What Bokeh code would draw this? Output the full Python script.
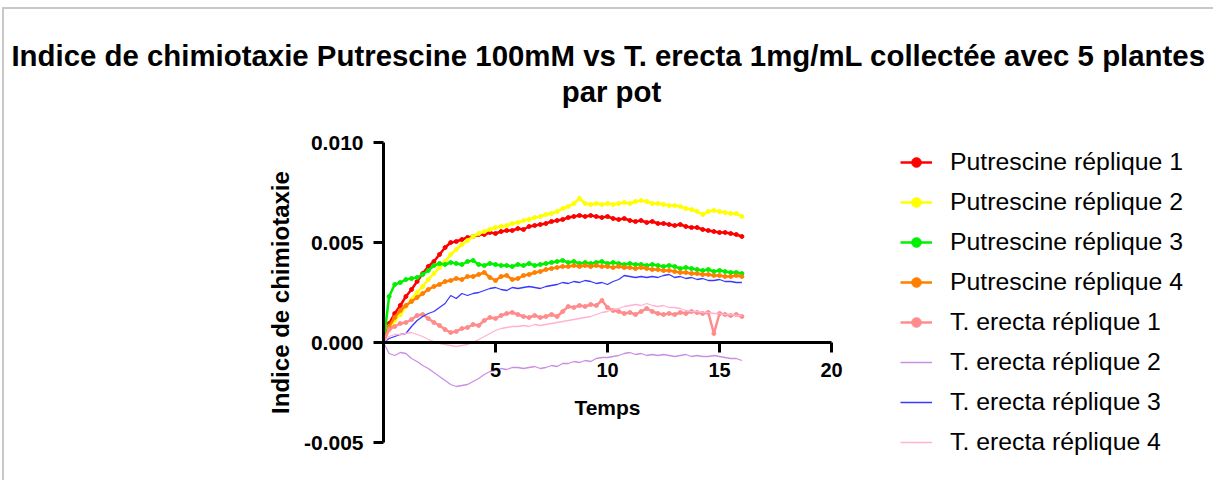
from bokeh.plotting import figure
from bokeh.models import (Range1d, FixedTicker, NumeralTickFormatter, Legend,
                          LegendItem, ColumnDataSource, Label)
from bokeh.embed import file_html
from bokeh.resources import INLINE

# Time (x) and series values (in units of 1e-3 of the chemotaxis index)
temps = [0.0, 0.25, 0.5, 0.75, 1.0, 1.25, 1.5, 1.75, 2.0, 2.25, 2.5, 2.75, 3.0,
         3.25, 3.5, 3.75, 4.0, 4.25, 4.5, 4.75, 5.0, 5.25, 5.5, 5.75, 6.0, 6.25,
         6.5, 6.75, 7.0, 7.25, 7.5, 7.75, 8.0, 8.25, 8.5, 8.75, 9.0, 9.25, 9.5,
         9.75, 10.0, 10.25, 10.5, 10.75, 11.0, 11.25, 11.5, 11.75, 12.0, 12.25,
         12.5, 12.75, 13.0, 13.25, 13.5, 13.75, 14.0, 14.25, 14.5, 14.75, 15.0,
         15.25, 15.5, 15.75, 16.0]

putrescine_1 = [0.00, 0.95, 1.45, 1.85, 2.30, 2.65, 3.05, 3.45, 3.80, 4.05, 4.40,
                4.75, 5.00, 5.05, 5.15, 5.25, 5.30, 5.40, 5.40, 5.50, 5.45, 5.55,
                5.60, 5.60, 5.70, 5.65, 5.80, 5.85, 5.90, 5.95, 6.05, 6.10, 6.15,
                6.25, 6.30, 6.35, 6.30, 6.35, 6.30, 6.25, 6.30, 6.20, 6.15, 6.20,
                6.10, 6.05, 6.10, 6.00, 6.05, 5.95, 5.95, 5.90, 5.85, 5.90, 5.80,
                5.75, 5.75, 5.65, 5.60, 5.55, 5.50, 5.50, 5.45, 5.40, 5.30]
putrescine_2 = [0.00, 0.70, 1.10, 1.40, 1.80, 2.15, 2.50, 2.80, 3.15, 3.45, 3.75,
                4.05, 4.40, 4.65, 4.90, 5.10, 5.30, 5.45, 5.55, 5.65, 5.75, 5.80,
                5.85, 5.95, 6.00, 6.10, 6.15, 6.25, 6.30, 6.40, 6.45, 6.55, 6.70,
                6.80, 6.95, 7.20, 6.95, 6.90, 6.95, 6.90, 6.95, 6.90, 6.95, 7.00,
                6.95, 7.05, 7.10, 7.05, 6.95, 6.95, 6.90, 6.85, 6.85, 6.80, 6.70,
                6.65, 6.55, 6.40, 6.55, 6.60, 6.55, 6.50, 6.45, 6.45, 6.30]
putrescine_3 = [0.00, 2.30, 2.90, 3.00, 3.15, 3.20, 3.25, 3.40, 3.60, 3.85, 3.95,
                3.90, 4.00, 3.95, 3.90, 4.05, 4.10, 3.90, 3.85, 3.95, 3.90, 3.85,
                3.85, 3.80, 3.90, 3.85, 3.95, 3.85, 3.90, 3.95, 4.00, 4.05, 4.10,
                4.00, 4.05, 3.95, 4.00, 3.95, 4.00, 4.05, 3.95, 4.00, 3.95, 3.90,
                3.95, 3.90, 3.90, 3.85, 3.90, 3.85, 3.80, 3.85, 3.80, 3.70, 3.75,
                3.70, 3.65, 3.60, 3.65, 3.55, 3.60, 3.55, 3.50, 3.50, 3.45]
putrescine_4 = [0.00, 0.80, 1.25, 1.60, 1.85, 2.05, 2.25, 2.45, 2.65, 2.80, 2.90,
                3.05, 3.10, 3.20, 3.15, 3.30, 3.30, 3.40, 3.50, 3.25, 3.10, 3.30,
                3.35, 3.15, 3.20, 3.35, 3.40, 3.50, 3.55, 3.65, 3.70, 3.75, 3.80,
                3.80, 3.85, 3.80, 3.85, 3.80, 3.85, 3.80, 3.80, 3.75, 3.80, 3.75,
                3.75, 3.70, 3.75, 3.70, 3.65, 3.65, 3.60, 3.60, 3.55, 3.50, 3.50,
                3.45, 3.45, 3.40, 3.40, 3.35, 3.35, 3.30, 3.30, 3.35, 3.30]
erecta_1 = [0.00, 0.65, 0.80, 0.95, 1.00, 1.15, 1.35, 1.40, 1.20, 1.00, 0.85,
            0.65, 0.50, 0.55, 0.70, 0.75, 0.90, 0.85, 1.10, 1.25, 1.20, 1.35,
            1.45, 1.50, 1.40, 1.30, 1.25, 1.35, 1.25, 1.30, 1.40, 1.30, 1.55,
            1.80, 1.75, 1.85, 1.80, 1.90, 1.85, 2.10, 1.75, 1.60, 1.55, 1.45,
            1.50, 1.40, 1.55, 1.70, 1.55, 1.45, 1.40, 1.45, 1.40, 1.50, 1.45,
            1.55, 1.50, 1.45, 1.50, 0.45, 1.45, 1.40, 1.35, 1.40, 1.30]
erecta_2 = [0.00, -0.55, -0.65, -0.50, -0.55, -0.80, -0.95, -1.15, -1.30, -1.50,
            -1.70, -1.90, -2.10, -2.20, -2.15, -2.10, -1.95, -1.80, -1.60, -1.45,
            -1.40, -1.30, -1.35, -1.25, -1.25, -1.30, -1.25, -1.20, -1.30, -1.25,
            -1.15, -1.20, -1.05, -1.05, -0.95, -1.00, -0.90, -0.95, -0.80, -0.75,
            -0.75, -0.70, -0.65, -0.55, -0.50, -0.60, -0.55, -0.65, -0.60, -0.65,
            -0.60, -0.65, -0.70, -0.65, -0.60, -0.70, -0.65, -0.70, -0.70, -0.65,
            -0.70, -0.75, -0.80, -0.80, -0.90]
erecta_3 = [0.00, 0.20, 0.30, 0.40, 0.45, 0.80, 1.10, 1.30, 1.45, 1.55, 1.75,
            1.95, 2.35, 2.20, 2.45, 2.35, 2.45, 2.50, 2.60, 2.70, 2.75, 2.65,
            2.60, 2.75, 2.70, 2.75, 2.80, 2.75, 2.70, 2.80, 2.85, 2.90, 3.00,
            2.95, 3.05, 3.00, 3.10, 3.05, 2.95, 3.00, 2.90, 3.05, 3.15, 3.35,
            3.30, 3.25, 3.30, 3.25, 3.30, 3.25, 3.35, 3.40, 3.25, 3.30, 3.20,
            3.25, 3.15, 3.20, 3.10, 3.10, 3.15, 3.05, 3.05, 3.00, 3.00]
erecta_4 = [0.00, 0.30, 0.40, 0.40, 0.45, 0.50, 0.40, 0.30, 0.15, 0.05, -0.05,
            -0.10, -0.15, -0.20, -0.15, -0.10, 0.00, 0.15, 0.30, 0.45, 0.60, 0.70,
            0.75, 0.80, 0.80, 0.85, 0.80, 0.90, 0.85, 0.90, 0.95, 1.00, 1.05,
            1.10, 1.15, 1.20, 1.25, 1.30, 1.40, 1.50, 1.55, 1.65, 1.70, 1.80,
            1.85, 1.90, 1.85, 1.95, 1.85, 1.80, 1.85, 1.75, 1.75, 1.70, 1.60,
            1.55, 1.55, 1.50, 1.50, 1.45, 1.45, 1.40, 1.40, 1.35, 1.35]

series_names = ["Putrescine réplique 1", "Putrescine réplique 2",
                "Putrescine réplique 3", "Putrescine réplique 4",
                "T. erecta réplique 1", "T. erecta réplique 2",
                "T. erecta réplique 3", "T. erecta réplique 4"]
series_values = [putrescine_1, putrescine_2, putrescine_3, putrescine_4,
                 erecta_1, erecta_2, erecta_3, erecta_4]
series_colors = ["#FF0000", "#FFFF00", "#00F000", "#FF8000",
                 "#FF8C8C", "#C98FE3", "#3838FF", "#FFB3D1"]
series_markers = [True, True, True, True, True, False, False, False]

x_ticks = [5, 10, 15, 20]
y_ticks = [-0.005, 0.0, 0.005, 0.010]

title_line_1 = ("Indice de chimiotaxie Putrescine 100mM vs T. erecta 1mg/mL "
                "collectée avec 5 plantes")
title_line_2 = "par pot"

FONT = "Liberation Sans"

# Canvas geometry (pixels inside the bordered box)
W, H = 1211, 473
AX_X0 = 379          # pixel column of x = 0
AX_Y0 = 333          # pixel row of y = 0 (from top)
PX_PER_X = 22.4      # pixels per time unit
PX_PER_Y = 20000.0   # pixels per index unit

x_start = -AX_X0 / PX_PER_X
x_end = (W - AX_X0) / PX_PER_X
y_end = AX_Y0 / PX_PER_Y
y_start = -(H - AX_Y0) / PX_PER_Y

# The frame fills the whole canvas; axes are pinned at x=0 / y=0
p = figure(width=W, height=H, output_backend="svg", toolbar_location=None,
           x_range=Range1d(x_start, x_end), y_range=Range1d(y_start, y_end),
           min_border=0, title=None)
p.styles = {"margin-left": "2px", "margin-top": "7px",
            "border-left": "2px solid #c8c8c8", "border-top": "2px solid #c8c8c8"}
p.grid.visible = False
p.outline_line_color = None
p.background_fill_color = "white"
p.border_fill_color = "white"

xa = p.xaxis[0]
ya = p.yaxis[0]
xa.fixed_location = 0
ya.fixed_location = 0
xa.bounds = (0, 20)
ya.bounds = (-0.005, 0.010)
xa.ticker = FixedTicker(ticks=x_ticks)
ya.ticker = FixedTicker(ticks=y_ticks)
ya.formatter = NumeralTickFormatter(format="0.000")
xa.axis_label = "Temps"
ya.axis_label = "Indice de chimiotaxie"

for ax in (xa, ya):
    ax.axis_line_width = 3
    ax.axis_line_color = "black"
    ax.major_tick_line_width = 3
    ax.major_tick_line_color = "black"
    ax.major_tick_out = 10
    ax.major_tick_in = 0
    ax.minor_tick_out = 0
    ax.minor_tick_in = 0
    ax.major_label_text_font = FONT
    ax.major_label_text_font_style = "bold"
    ax.major_label_text_color = "black"
    ax.axis_label_text_font = FONT
    ax.axis_label_text_font_style = "bold"
    ax.axis_label_text_color = "black"

xa.major_label_text_font_size = "20px"
ya.major_label_text_font_size = "21px"
xa.major_label_standoff = 10
ya.major_label_standoff = 10
xa.axis_label_text_font_size = "21px"
xa.axis_label_standoff = 16
ya.axis_label_text_font_size = "24px"
ya.axis_label_standoff = 7

# Title (two centred lines)
for txt, cx, base in ((title_line_1, 604, 46), (title_line_2, 607, 82)):
    p.add_layout(Label(x=cx, y=H - base, x_units="screen", y_units="screen",
                       text=txt, text_align="center", text_baseline="alphabetic",
                       text_font=FONT, text_font_size="29.4px",
                       text_font_style="bold", text_color="black"))

items = []
for name, vals, color, mk in zip(series_names, series_values, series_colors, series_markers):
    src = ColumnDataSource(dict(t=temps, y=[v / 1000 for v in vals]))
    if mk:
        rl = p.line("t", "y", source=src, line_color=color, line_width=2.5)
        rs = p.scatter("t", "y", source=src, marker="circle", size=4,
                       fill_color=color, line_color=color)
        rends = [rl, rs]
    else:
        rl = p.line("t", "y", source=src, line_color=color, line_width=1.3)
        rends = [rl]
    items.append(LegendItem(label=name, renderers=rends))

legend = Legend(items=items, location=(896, 26), orientation="vertical",
                label_text_font=FONT, label_text_font_size="24.8px",
                label_text_color="black",
                glyph_width=32, glyph_height=24, label_height=24,
                spacing=12, label_standoff=18, padding=0, margin=0,
                border_line_alpha=0, background_fill_alpha=0)
p.add_layout(legend)

open("out.html", "w").write(file_html(p, INLINE))
